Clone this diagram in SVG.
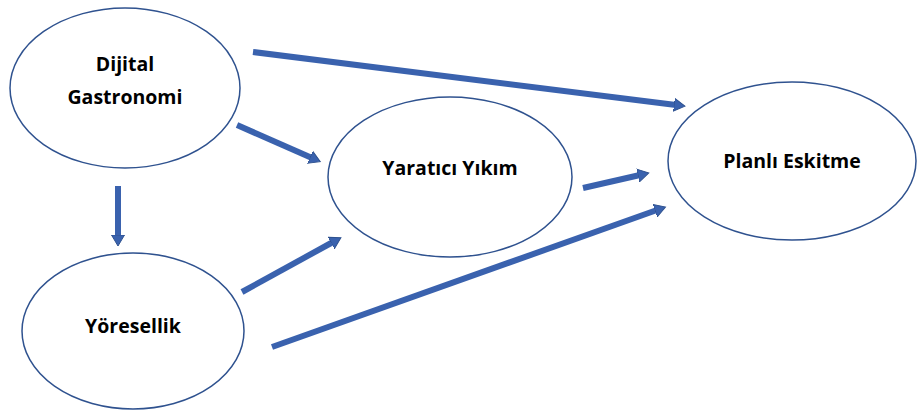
<svg xmlns="http://www.w3.org/2000/svg" width="917" height="412" viewBox="0 0 917 412">
<style>
.node{fill:#fff;stroke:#2F528F;stroke-width:1.5}
.lbl{font-family:"Open Sans","Liberation Sans",sans-serif;font-weight:bold;font-size:19.5px;fill:#000;text-anchor:middle}
.arr{stroke:#3A62AE;stroke-width:6;fill:none;marker-end:url(#ah)}
</style>
<defs>
<marker id="ah" markerUnits="userSpaceOnUse" markerWidth="14" markerHeight="16" refX="2" refY="8" orient="auto">
<path d="M0,1.5 L11,8 L0,14.5 Z" fill="#3A62AE" stroke="#2F528F" stroke-width="1"/>
</marker>
</defs>
<rect width="917" height="412" fill="#fff"/>
<g id="connectors">
<line class="arr" x1="253" y1="52" x2="676" y2="105"/>
<line class="arr" x1="237" y1="125" x2="312" y2="158"/>
<line class="arr" x1="118" y1="186" x2="118" y2="237"/>
<line class="arr" x1="583" y1="188" x2="640" y2="175"/>
<line class="arr" x1="242" y1="292" x2="333" y2="242"/>
<line class="arr" x1="272" y1="347" x2="657" y2="210"/>
</g>
<g id="dijital">
<ellipse class="node" cx="125" cy="88" rx="115" ry="80"/>
<text class="lbl" x="125" y="71">Dijital</text>
<text class="lbl" x="125" y="104">Gastronomi</text>
</g>
<g id="yoresellik">
<ellipse class="node" cx="133" cy="331" rx="111" ry="78"/>
<text class="lbl" x="133" y="333">Yöresellik</text>
</g>
<g id="yaratici">
<ellipse class="node" cx="450" cy="177" rx="122" ry="80"/>
<text class="lbl" x="450" y="175">Yaratıcı Yıkım</text>
</g>
<g id="planli">
<ellipse class="node" cx="792" cy="161" rx="124" ry="79"/>
<text class="lbl" x="792" y="168">Planlı Eskitme</text>
</g>
</svg>
